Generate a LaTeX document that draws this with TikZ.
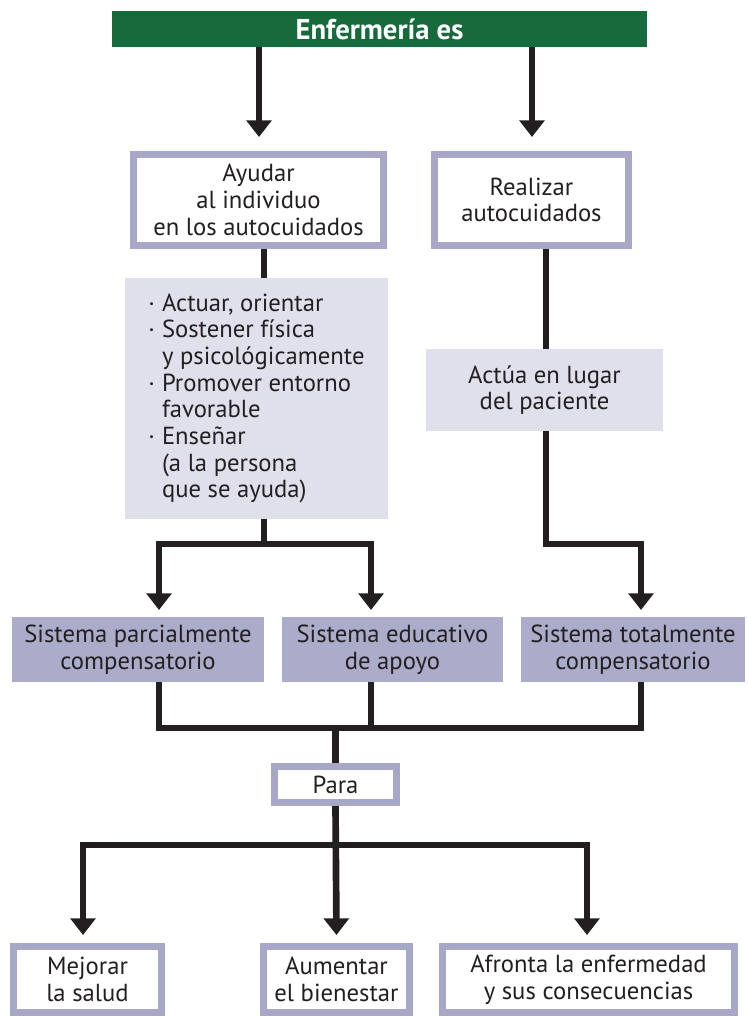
\documentclass[tikz,border=0pt]{standalone}
\usepackage{fontspec}
\setmainfont{PT Sans}
\usetikzlibrary{arrows.meta,calc}
\definecolor{grn}{HTML}{166A3B}
\definecolor{lavb}{HTML}{A7A7C8}
\definecolor{lavf}{HTML}{ABABCA}
\definecolor{lite}{HTML}{E0E0EC}
\definecolor{ink}{HTML}{231F20}
\definecolor{txt}{HTML}{231F20}
\newcommand\bul{\makebox[0.55em][l]{·}}
\newcommand\hang{\hspace*{0.55em}}
\tikzset{
  base/.style={rectangle, inner sep=0pt, align=center, text=txt, font=\fontsize{18.5}{20}\selectfont},
  outl/.style={base, draw=lavb, fill=white, line width=5.25pt, outer sep=2.625pt},
  dark/.style={base, fill=lavf, outer sep=0pt},
  lbox/.style={base, fill=lite, outer sep=0pt},
  ln/.style={draw=ink, line width=5pt, line join=miter},
  arr/.style={ln, -{Triangle[width=18.5pt,length=12.5pt]}},
  darr/.style={ln, {Triangle[width=18.5pt,length=12.5pt]}-{Triangle[width=18.5pt,length=12.5pt]}}
}
\begin{document}
\begin{tikzpicture}[x=0.75pt,y=-0.75pt]
\useasboundingbox (0,0) rectangle (747,1018);
% nodes
\node[base, fill=grn, text=white, font=\bfseries\fontsize{21.5}{22}\selectfont, minimum width=535*0.75pt, minimum height=36*0.75pt] (top) at (379.5,29) {Enfermería es};
\node[outl, minimum width=250*0.75pt, minimum height=91*0.75pt] (ayudar) at (258.5,200) {Ayudar\\al individuo\\en los autocuidados};
\node[outl, minimum width=194*0.75pt, minimum height=91*0.75pt] (realizar) at (531.5,200) {Realizar\\autocuidados};
\node[lbox, align=left, minimum width=263*0.75pt, minimum height=241*0.75pt] (light) at (256.5,398.5) {\bul Actuar, orientar\\\bul Sostener física\\\hang y psicológicamente\\\bul Promover entorno\\\hang favorable\\\bul Enseñar\\\hang (a la persona\\\hang que se ayuda)};
\node[lbox, minimum width=237*0.75pt, minimum height=82*0.75pt] (actua) at (544.5,390) {Actúa en lugar\\del paciente};
\node[dark, minimum width=252*0.75pt, minimum height=65*0.75pt] (sp) at (138,649.5) {Sistema parcialmente\\compensatorio};
\node[dark, minimum width=221*0.75pt, minimum height=65*0.75pt] (se) at (392.5,649.5) {Sistema educativo\\de apoyo};
\node[dark, minimum width=224*0.75pt, minimum height=65*0.75pt] (st) at (633,649.5) {Sistema totalmente\\compensatorio};
\node[outl, minimum width=122*0.75pt, minimum height=36*0.75pt] (para) at (335.5,784.5) {Para};
\node[outl, minimum width=148*0.75pt, minimum height=66*0.75pt] (mejorar) at (87.5,979.5) {Mejorar\\la salud};
\node[outl, minimum width=146*0.75pt, minimum height=66*0.75pt] (aumentar) at (336.5,979.5) {Aumentar\\el bienestar};
\node[outl, minimum width=292*0.75pt, minimum height=66*0.75pt] (afronta) at (588.5,979.5) {Afronta la enfermedad\\y sus consecuencias};
% junction coordinates
\coordinate (xa) at (259,0);
\coordinate (xb) at (532,0);
\coordinate (xl) at (264,0);
\coordinate (xr) at (546,0);
\coordinate (s1) at (159,544);
\coordinate (s2) at (371,544);
\coordinate (r1) at (641,544);
\coordinate (m1) at (159,728);
\coordinate (m2) at (371,728);
\coordinate (m3) at (641,728);
\coordinate (mc) at (335.5,728);
\coordinate (b1) at (83,845);
\coordinate (b2) at (336.5,845);
\coordinate (b3) at (587,845);
% connectors
\draw[arr] (top.south -| xa) -- ($(ayudar.north -| xa)+(0,-14)$);
\draw[arr] (top.south -| xb) -- ($(realizar.north -| xb)+(0,-14)$);
\draw[ln] (ayudar.south -| xl) -- (light.north -| xl);
\draw[ln] (light.south -| xl) -- ($(s1 -| xl)+(0,2.5)$);
\draw[darr] ($(sp.north -| s1)+(0,-7)$) -- (s1) -- (s2) -- ($(se.north -| s2)+(0,-7)$);
\draw[ln] (realizar.south -| xr) -- (actua.north -| xr);
\draw[arr] (actua.south -| xr) -- (s2 -| xr) -- (r1) -- ($(st.north -| r1)+(0,-7)$);
\draw[ln] (sp.south -| m1) -- (m1) -- (m3) -- (st.south -| m3);
\draw[ln] (se.south -| m2) -- (m2);
\draw[ln] (mc) -- (para.north -| mc);
\draw[darr] ($(mejorar.north -| b1)+(0,-8)$) -- (b1) -- (b3) -- ($(afronta.north -| b3)+(0,-8)$);
\draw[arr] (para.south) -- ($(aumentar.north)+(0,-8)$);
\end{tikzpicture}
\end{document}
